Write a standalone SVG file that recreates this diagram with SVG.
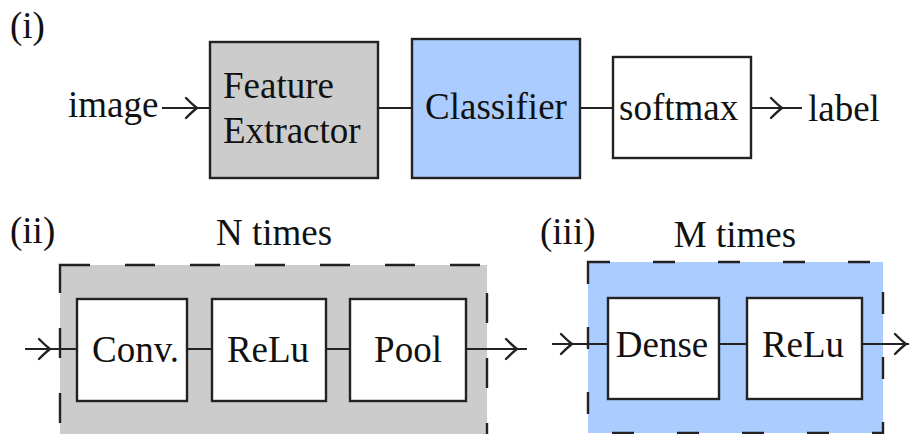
<svg xmlns="http://www.w3.org/2000/svg" width="909" height="434" viewBox="0 0 909 434" font-family="Liberation Serif, Times New Roman, DejaVu Serif, serif" font-size="37">
<defs>
<style>
text{font-family:'Liberation Serif','Times New Roman','DejaVu Serif',serif;font-size:37px;fill:#111}
.box{stroke:#222;stroke-width:2.4}
.w{fill:#fff}
.g{fill:#cccccc}
.b{fill:#aaccff}
.line{stroke:#222;stroke-width:2.2;fill:none}
.tip{stroke:#222;stroke-width:2.4;fill:none;stroke-linecap:round;stroke-linejoin:round}
.dg{fill:#cccccc;stroke:#222;stroke-width:2.4;stroke-dasharray:30 35}
.db{fill:#aaccff;stroke:#222;stroke-width:2.4;stroke-dasharray:22 43}
.m{text-anchor:middle}
</style>
</defs>
<g id="labels">
<text x="10" y="38">(i)</text>
<text x="10" y="243">(ii)</text>
<text x="540" y="244">(iii)</text>
</g>
<g id="group-n">
<rect class="dg" x="60" y="265" width="427" height="172"/>
<text class="m" x="274" y="245">N times</text>
</g>
<g id="group-m">
<rect class="db" x="588" y="262" width="295" height="171"/>
<text class="m" x="735" y="247">M times</text>
</g>
<g id="connectors">
<path class="line" d="M162,108 H210 M378,108 H412 M580,108 H613 M751,108 H802"/>
<path class="tip" d="M186,98 Q193,105 197,108 Q193,111 186,118"/>
<path class="tip" d="M771,98 Q778,105 782,108 Q778,111 771,118"/>
<path class="line" d="M25,349 H77 M187,349 H212 M326,349 H350 M466,349 H527"/>
<path class="tip" d="M39,339 Q46,346 50,349 Q46,352 39,359"/>
<path class="tip" d="M506,339 Q513,346 517,349 Q513,352 506,359"/>
<path class="line" d="M552,344 H608 M719,344 H747 M862,344 H909"/>
<path class="tip" d="M561,334 Q568,341 572,344 Q568,347 561,354"/>
<path class="tip" d="M895,334 Q902,341 906,344 Q902,347 895,354"/>
</g>
<g id="image"><text x="68" y="117">image</text></g>
<g id="feature-extractor">
<rect class="box g" x="210" y="42" width="168" height="136"/>
<text x="223" y="98">Feature</text>
<text x="223" y="143">Extractor</text>
</g>
<g id="classifier">
<rect class="box b" x="412" y="39" width="168" height="139"/>
<text class="m" x="496" y="119">Classifier</text>
</g>
<g id="softmax">
<rect class="box w" x="613" y="57" width="138" height="101"/>
<text x="619" y="120">softmax</text>
</g>
<g id="label"><text x="808" y="121">label</text></g>
<g id="conv">
<rect class="box w" x="77" y="299" width="110" height="102"/>
<text x="92" y="362">Conv.</text>
</g>
<g id="relu1">
<rect class="box w" x="212" y="299" width="114" height="102"/>
<text class="m" x="268" y="362">ReLu</text>
</g>
<g id="pool">
<rect class="box w" x="350" y="299" width="116" height="102"/>
<text class="m" x="408" y="362">Pool</text>
</g>
<g id="dense">
<rect class="box w" x="608" y="298" width="111" height="101"/>
<text class="m" x="662" y="357">Dense</text>
</g>
<g id="relu2">
<rect class="box w" x="747" y="298" width="115" height="101"/>
<text class="m" x="803" y="357">ReLu</text>
</g>
</svg>
